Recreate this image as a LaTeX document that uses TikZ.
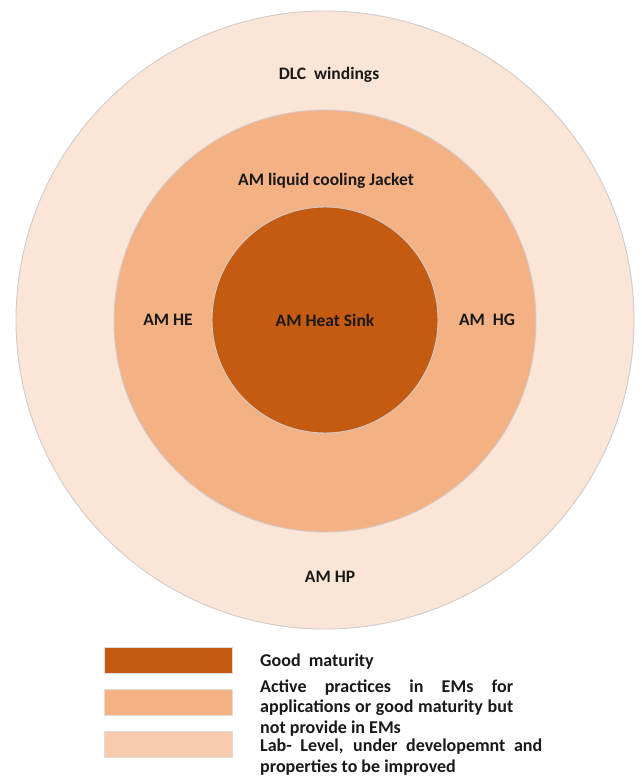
\documentclass[tikz,border=0pt]{standalone}
\usepackage{fontspec}
\setmainfont{Carlito}
\definecolor{darkor}{HTML}{C55A11}
\definecolor{midor}{HTML}{F4B183}
\definecolor{lightor}{HTML}{FBE5D6}
\definecolor{legor}{HTML}{F8CBAD}
\definecolor{rimgray}{HTML}{D0CCCC}
\tikzset{
  ring/.style={draw=rimgray, line width=0.9pt},
  lbl/.style={font=\fontsize{17.5}{21}\selectfont\bfseries, text=black!90, inner sep=0pt, anchor=base},
  legbox/.style={draw=rimgray!70, line width=0.6pt, minimum width=128pt, minimum height=26pt, inner sep=0pt, anchor=north west},
  legtxt/.style={font=\fontsize{18}{21}\selectfont\bfseries, text=black!90, inner sep=0pt, anchor=base west}
}
\begin{document}
\begin{tikzpicture}[x=1pt,y=-1pt]
\useasboundingbox (0,0) rectangle (642,776);
\fill[white] (0,0) rectangle (642,776);
% circles
\path[ring, fill=lightor] (325,320) circle (309);
\path[ring, fill=midor] (325,321) circle (211);
\path[ring, fill=darkor] (325,320) circle (113);
% labels
\node[lbl] (dlc) at (329,79) {DLC\ \ windings};
\node[lbl] (jacket) at (326,185) {AM liquid cooling Jacket};
\node[lbl] (he) at (168,325) {AM HE};
\node[lbl] (sink) at (325,326) {AM Heat Sink};
\node[lbl] (hg) at (487,325) {AM\ \ HG};
\node[lbl] (hp) at (330,582) {AM HP};
% legend
\node[legbox, fill=darkor] (b1) at (104,647) {};
\node[legbox, fill=midor] (b2) at (104,689) {};
\node[legbox, fill=legor] (b3) at (104,731) {};
\node[legtxt] (t1) at (260,666) {Good\ \ maturity};
\node[legtxt] (t2a) at (260,692) {\makebox[253pt][s]{Active practices in EMs for}};
\node[legtxt] (t2b) at (260,712) {\makebox[253pt][s]{applications or good maturity but}};
\node[legtxt] (t2c) at (260,733) {not provide in EMs};
\node[legtxt] (t3a) at (260,751) {\makebox[282pt][s]{Lab- Level, under developemnt and}};
\node[legtxt] (t3b) at (260,772) {properties to be improved};
\end{tikzpicture}
\end{document}
